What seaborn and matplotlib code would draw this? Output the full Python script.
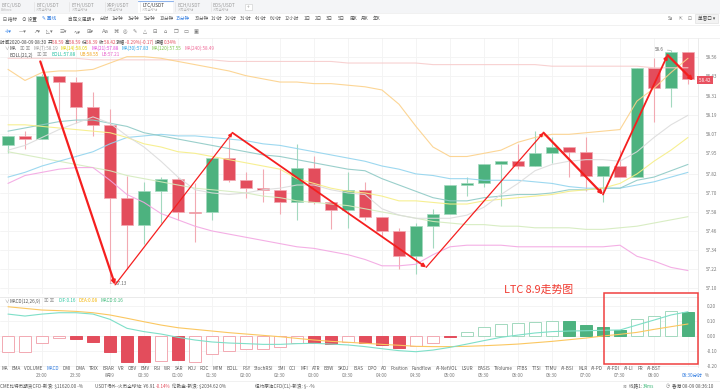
import numpy as np
import matplotlib
matplotlib.use("Agg")
import matplotlib.pyplot as plt
import matplotlib.patches as patches
import matplotlib.transforms as mtransforms
import seaborn as sns

W, H = 720, 390

# LTC/USDT 15 min candles, 22:30 -> 08:30
candle_open = [58.00, 58.06, 58.04, 58.44, 58.40, 58.24, 58.13, 57.67, 57.50, 57.71,
               57.79, 57.58, 57.58, 57.92, 57.78, 57.73, 57.72, 57.64, 57.86, 57.64,
               57.59, 57.72, 57.55, 57.46, 57.30, 57.49, 57.57, 57.75, 57.76, 57.88,
               57.90, 57.87, 57.95, 57.99, 57.96, 57.81, 57.87, 57.80, 58.49, 58.36, 58.59]
candle_high = [58.06, 58.09, 58.45, 58.44, 58.43, 58.34, 58.23, 57.81, 57.77, 57.80,
               57.80, 57.76, 57.92, 58.05, 57.83, 57.85, 57.86, 58.01, 57.93, 57.64,
               57.83, 57.77, 57.55, 57.48, 57.51, 57.60, 57.75, 57.80, 57.88, 57.90,
               58.01, 58.09, 58.05, 57.99, 58.05, 57.87, 57.97, 58.49, 58.55, 58.60, 58.59]
candle_low = [57.95, 57.98, 58.04, 58.16, 58.14, 58.06, 57.13, 57.22, 57.38, 57.51,
              57.53, 57.39, 57.53, 57.77, 57.67, 57.64, 57.57, 57.53, 57.63, 57.47,
              57.48, 57.53, 57.42, 57.22, 57.19, 57.35, 57.57, 57.68, 57.74, 57.62,
              57.85, 57.87, 57.89, 57.80, 57.71, 57.64, 57.80, 57.80, 58.15, 58.24, 58.39]
candle_close = [58.06, 58.04, 58.44, 58.40, 58.24, 58.13, 57.67, 57.50, 57.71, 57.79,
                57.58, 57.575, 57.92, 57.78, 57.73, 57.72, 57.64, 57.86, 57.64, 57.59,
                57.72, 57.55, 57.46, 57.30, 57.49, 57.57, 57.75, 57.76, 57.88, 57.90,
                57.87, 57.95, 57.99, 57.96, 57.81, 57.87, 57.80, 58.49, 58.36, 58.59, 58.42]

# overlay lines
ma7 = [57.97, 58.00, 58.05, 58.10, 58.14, 58.18, 58.14, 58.06, 57.99, 57.90,
       57.80, 57.72, 57.70, 57.69, 57.70, 57.72, 57.73, 57.75, 57.75, 57.72,
       57.70, 57.69, 57.60, 57.56, 57.54, 57.54, 57.54, 57.56, 57.61, 57.69,
       57.76, 57.84, 57.88, 57.90, 57.91, 57.91, 57.90, 57.96, 58.05, 58.13, 58.19]
ma14 = [58.13, 58.13, 58.12, 58.11, 58.10, 58.09, 58.08, 58.05, 58.01, 57.99,
        57.96, 57.95, 57.93, 57.91, 57.89, 57.87, 57.85, 57.79, 57.76, 57.73,
        57.71, 57.70, 57.68, 57.65, 57.65, 57.64, 57.63, 57.63, 57.65, 57.66,
        57.67, 57.68, 57.69, 57.71, 57.72, 57.73, 57.76, 57.82, 57.90, 57.97, 58.05]
boll_mid = [58.09, 58.11, 58.13, 58.15, 58.16, 58.16, 58.14, 58.12, 58.08, 58.06,
            58.04, 58.02, 58.00, 57.98, 57.96, 57.94, 57.93, 57.91, 57.89, 57.87,
            57.85, 57.84, 57.79, 57.75, 57.71, 57.67, 57.65, 57.65, 57.67, 57.68,
            57.69, 57.69, 57.70, 57.72, 57.72, 57.73, 57.73, 57.78, 57.80, 57.84, 57.88]
ma30 = [57.80, 57.83, 57.87, 57.90, 57.93, 57.96, 58.01, 58.05, 58.06, 58.07,
        58.06, 58.06, 58.05, 58.04, 58.03, 58.01, 58.00, 57.98, 57.96, 57.94,
        57.92, 57.90, 57.87, 57.85, 57.82, 57.81, 57.79, 57.79, 57.78, 57.78,
        57.78, 57.77, 57.76, 57.74, 57.73, 57.73, 57.73, 57.75, 57.77, 57.80, 57.83]
ma120 = [57.96, 57.94, 57.92, 57.90, 57.88, 57.86, 57.84, 57.81, 57.79, 57.77,
         57.75, 57.73, 57.72, 57.71, 57.70, 57.68, 57.67, 57.65, 57.64, 57.63,
         57.62, 57.60, 57.58, 57.56, 57.54, 57.52, 57.51, 57.50, 57.50, 57.49,
         57.49, 57.48, 57.48, 57.48, 57.47, 57.47, 57.48, 57.49, 57.51, 57.53, 57.55]
ma240 = [58.55, 58.55, 58.55, 58.55, 58.55, 58.54, 58.54, 58.54, 58.54, 58.54,
         58.54, 58.54, 58.54, 58.53, 58.53, 58.53, 58.53, 58.53, 58.53, 58.53,
         58.52, 58.52, 58.52, 58.52, 58.52, 58.51, 58.51, 58.51, 58.51, 58.51,
         58.51, 58.51, 58.50, 58.50, 58.50, 58.50, 58.50, 58.50, 58.49, 58.49, 58.49]
boll_ub = [58.48, 58.41, 58.46, 58.47, 58.47, 58.48, 58.52, 58.56, 58.56, 58.55,
           58.53, 58.51, 58.49, 58.47, 58.44, 58.42, 58.40, 58.40, 58.39, 58.39,
           58.38, 58.37, 58.35, 58.26, 58.12, 57.99, 57.93, 57.93, 57.95, 57.97,
           58.02, 58.05, 58.07, 58.07, 58.08, 58.09, 58.10, 58.28, 58.36, 58.46, 58.55]
boll_lb = [57.76, 57.81, 57.83, 57.85, 57.86, 57.86, 57.78, 57.69, 57.64, 57.57,
           57.53, 57.49, 57.46, 57.44, 57.42, 57.40, 57.38, 57.36, 57.35, 57.33,
           57.31, 57.28, 57.24, 57.24, 57.25, 57.31, 57.36, 57.37, 57.37, 57.37,
           57.36, 57.36, 57.36, 57.36, 57.36, 57.36, 57.37, 57.30, 57.27, 57.23, 57.21]

# MACD(12,26,9)
macd_hist = [-0.110, -0.107, -0.047, -0.018, -0.020, -0.040, -0.110, -0.173, -0.178, -0.167,
             -0.162, -0.178, -0.122, -0.102, -0.089, -0.089, -0.073, -0.047, -0.051, -0.056,
             -0.040, -0.047, -0.062, -0.084, -0.069, -0.047, -0.007, 0.022, 0.056, 0.078,
             0.082, 0.093, 0.100, 0.098, 0.071, 0.056, 0.038, 0.109, 0.133, 0.167, 0.160]
macd_hollow = [1, 1, 1, 1, 0, 0, 0, 0, 0, 1, 0, 1, 1, 1, 1, 1, 1, 1, 0, 0, 1,
               0, 0, 0, 1, 1, 0, 1, 1, 1, 1, 1, 1, 0, 0, 0, 0, 1, 1, 1, 0]
dif = [0.144, 0.131, 0.144, 0.153, 0.153, 0.144, 0.109, 0.049, 0.027, 0.011,
       -0.011, -0.029, -0.042, -0.049, -0.053, -0.058, -0.058, -0.053, -0.051, -0.056,
       -0.062, -0.073, -0.087, -0.100, -0.107, -0.096, -0.078, -0.056, -0.033, -0.011,
       0.004, 0.018, 0.027, 0.031, 0.033, 0.036, 0.038, 0.071, 0.104, 0.138, 0.160]
dea = [0.193, 0.182, 0.171, 0.167, 0.162, 0.153, 0.138, 0.116, 0.093, 0.071,
       0.053, 0.042, 0.031, 0.020, 0.011, 0.002, -0.007, -0.018, -0.029, -0.038,
       -0.044, -0.051, -0.058, -0.064, -0.071, -0.073, -0.073, -0.071, -0.067, -0.062,
       -0.056, -0.047, -0.038, -0.027, -0.016, -0.002, 0.009, 0.022, 0.042, 0.060, 0.078]

time_idx = list(range(2, 41, 2))
time_labels = ["23:00", "23:30", "8月9", "00:30", "01:00", "01:30", "02:00", "02:30",
               "03:00", "03:30", "04:00", "04:30", "05:00", "05:30", "06:00", "06:30",
               "07:00", "07:30", "08:00", "08:30"]
price_ticks = [58.56, 58.44, 58.31, 58.19, 58.07, 57.95, 57.82, 57.70, 57.58, 57.46, 57.34, 57.22, 57.10]
price_labels = ["58.56", "58.43", "58.31", "58.19", "58.07", "57.95", "57.82", "57.70", "57.58",
                "57.46", "57.34", "57.22", "57.10"]
macd_ticks = [0.20, 0.10, 0.00, -0.10, -0.20]

# hand drawn trend zigzag (candle index, price)
zigzag_x = [1.9, 6.3, 13.2, 24.6, 31.5, 35.0, 38.8, 40.3]
zigzag_y = [58.53, 57.12, 58.08, 57.23, 58.08, 57.69, 58.57, 58.41]
zigzag_lw = [1.6, 0.9, 1.3, 0.9, 1.6, 1.3, 1.6]

indicator_names = ["MA", "EMA", "VOLUME", "MACD", "DMI", "DMA", "TRIX", "BRAR", "VR", "OBV", "EMV",
                   "RSI", "WR", "SAR", "KDJ", "ROC", "MTM", "BOLL", "PSY", "StochRSI", "SMI", "CCI",
                   "MFI", "ATR", "BBW", "SKDJ", "BIAS", "DPO", "AO", "Position", "Fundflow",
                   "AI-NetVOL", "LSUR", "BASIS", "TVolume", "FTBS", "TTSI", "TTMU", "AI-BSI", "MLR",
                   "AI-PD", "AI-FDI", "AI-LI", "FR", "AI-BST"]

UP = "#4db27f"
DOWN = "#e34d5c"
UP_LIGHT = "#a3d9bf"
DOWN_LIGHT = "#f2a9b2"
RED_PEN = "#f51f1f"
FS = 3.3
SYM = ["DejaVu Sans", "Noto Sans CJK SC"]

sns.set_theme(style="white")
plt.rcParams["font.family"] = ["Noto Sans CJK SC", "DejaVu Sans"]
plt.rcParams["axes.unicode_minus"] = False

fig = plt.figure(figsize=(W / 100, H / 100), dpi=100)
fig.patch.set_facecolor("white")
renderer = fig.canvas.get_renderer()


def fx(x):
    return x / W


def fy(y):
    return 1 - y / H


def put(x, y, s, size=FS, color="#666666", ha="left", family=None):
    kw = {} if family is None else {"family": family}
    return fig.text(fx(x), fy(y), s, fontsize=size, color=color, va="center", ha=ha, **kw)


def put_row(x, y, pieces, size=FS, gap=0.0):
    for s, c in pieces:
        t = put(x, y, s, size, c)
        x += t.get_window_extent(renderer).width + gap
    return x


# ---------------- top chrome ----------------
fig.add_artist(patches.Rectangle((0, fy(12.5)), 1, 12.5 / H, transform=fig.transFigure,
                                 fc="#f4f5f7", ec="none"))
fig.add_artist(patches.Rectangle((fx(138), fy(12.5)), 35 / W, 12.5 / H, transform=fig.transFigure,
                                 fc="white", ec="none"))
fig.add_artist(plt.Line2D([fx(138), fx(173)], [fy(0.5), fy(0.5)], transform=fig.transFigure,
                          color="#8fb4ec", lw=0.8))
tabs = [("BTC/USD", "Bitfinex"), ("BTC/USDT", "火币全球站"), ("ETH/USDT", "火币全球站"),
        ("XRP/USDT", "火币全球站"), ("LTC/USDT", "火币全球站"), ("BCH/USDT", "火币全球站"),
        ("EOS/USDT", "火币全球站")]
for k, (name, sub) in enumerate(tabs):
    x0 = 1 + 35.3 * k
    put(x0, 5, name, FS, "#333333" if k == 4 else "#9a9a9a")
    put(x0, 9.8, sub, 2.3, "#b5b5b5")
    if k < 6:
        fig.add_artist(plt.Line2D([fx(x0 + 33), fx(x0 + 33)], [fy(2), fy(11)],
                                  transform=fig.transFigure, color="#e3e3e3", lw=0.5))
fig.add_artist(patches.Rectangle((fx(245), fy(10)), 7 / W, 6 / H, transform=fig.transFigure,
                                 fc="white", ec="#cccccc", lw=0.4))
put(248.5, 7, "+", FS, "#999999", ha="center")
for yy in (12.5, 25, 37.5):
    fig.add_artist(plt.Line2D([0, 1], [fy(yy), fy(yy)], transform=fig.transFigure,
                              color="#ececec", lw=0.5))

put_row(3, 18.8, [("⊟ 指标", "#555555")])
put_row(22, 18.8, [("⊙ 设置", "#555555")])
put_row(42, 18.8, [("✎ 画线", "#2f7be0")])
period_x = [68, 100, 112, 128, 144, 160, 176, 195, 211, 225, 240, 255, 270, 285, 304, 315, 326, 338, 350, 361, 373]
period_txt = ["自定义周期 ▾", "分时", "1分钟", "3分钟", "5分钟", "10分钟", "15分钟", "30分钟", "1小时",
              "2小时", "3小时", "4小时", "6小时", "12小时", "1日", "2日", "3日", "5日", "周K", "月K", "年K"]
for px_, s in zip(period_x, period_txt):
    put(px_, 18.8, s, FS, "#2f7be0" if s == "15分钟" else "#555555")
put(668, 18.8, "Sa", FS, "#666666")
put(679, 18.8, "⇱", FS, "#888888", family=SYM)
put(688, 18.8, "⊡", FS, "#888888", family=SYM)
fig.add_artist(patches.Rectangle((fx(695), fy(23)), 23 / W, 8.5 / H, transform=fig.transFigure,
                                 fc="#f3f3f3", ec="#dddddd", lw=0.4))
put(706.5, 18.8, "单窗口 ▾", FS, "#444444", ha="center")

tool_icons = ["✛▾", "—▾", "↗▾", "◺▾", "☰▾", "∿▾", "⊞▾", "Aa", "⌘", "◎", "✎", "△", "⊟", "⌂", "❐", "▭", "▣"]
tool_x = [5, 19, 33, 46, 60, 73, 87, 102, 113, 123, 133, 143, 153, 164, 174, 184, 194]
for k, (tx, s) in enumerate(zip(tool_x, tool_icons)):
    put(tx, 31.5, s, 3.8, "#3a86e8" if k == 0 else "#777777", family=SYM)

# info rows
put_row(0.5, 42, [("时间2020-08-09 08:30 ", "#444444"), ("开", "#444444"), ("58.59 ", DOWN),
                  ("高", "#444444"), ("58.59 ", DOWN), ("低", "#444444"), ("58.39 ", DOWN),
                  ("收", "#444444"), ("58.42 ", DOWN), ("涨幅", "#444444"), ("-0.29%(-0.17) ", DOWN),
                  ("振幅", "#444444"), ("0.34%", DOWN)])
put(4, 48.5, "∨", FS, "#888888")
put(10, 48.5, "MA", FS, "#444444")
put(20, 48.5, "▣ ▣", FS, "#999999")
put_row(33, 48.5, [("MA(7):58.19", "#9c9c9c"), ("MA(14):58.05", "#e3d000"), ("MA(21):57.88", "#e043d8"),
                   ("MA(30):57.83", "#1f9fe6"), ("MA(120):57.55", "#7cc44a"), ("MA(240):58.49", "#f06a98")],
        gap=3)
put(10, 55, "BOLL(21,2)", FS, "#444444")
put(37, 55, "▣ ▣", FS, "#999999")
put_row(52, 55, [("BOLL:57.88", "#1fbf9f"), ("UB:58.55", "#f0a214"), ("LB:57.21", "#e860c8")], gap=3)

# ---------------- price panel ----------------
ax = fig.add_axes([0, fy(294), fx(698), (294 - 38) / H])
idx = np.arange(len(candle_close))
o = np.array(candle_open)
c = np.array(candle_close)
up = c > o
body_low = np.minimum(o, c)
body_h = np.maximum(np.abs(c - o), 0.006)
ax.vlines(idx, candle_low, candle_high, colors=[UP_LIGHT if u else DOWN_LIGHT for u in up],
          lw=0.8, zorder=2)
ax.bar(idx, body_h, bottom=body_low, width=0.76, color=[UP if u else DOWN for u in up],
       edgecolor=[UP_LIGHT if u else DOWN_LIGHT for u in up], linewidth=0.5, zorder=3)

lines = [(ma240, "#f7cccc"), (boll_ub, "#fcd18a"), (ma120, "#d4ebbd"), (boll_lb, "#f3a6e2"),
         (ma30, "#92d4ee"), (boll_mid, "#8fcac6"), (ma14, "#f6ee86"), (ma7, "#dcdcdc")]
for vals, col in lines:
    sns.lineplot(x=idx, y=vals, ax=ax, color=col, linewidth=0.8, alpha=0.9, zorder=4)

for k in range(len(zigzag_x) - 1):
    ax.annotate("", xy=(zigzag_x[k + 1], zigzag_y[k + 1]), xytext=(zigzag_x[k], zigzag_y[k]),
                arrowprops=dict(arrowstyle="-|>", color=RED_PEN, lw=zigzag_lw[k],
                                shrinkA=0, shrinkB=0, mutation_scale=5), zorder=6)

ax.annotate("58.6", xy=(39, candle_high[39]), xytext=(-5, 0.6), textcoords="offset points",
            ha="right", va="center", fontsize=FS, color="#666666",
            arrowprops=dict(arrowstyle="-", color="#999999", lw=0.4, shrinkA=0, shrinkB=0))
ax.annotate("57.13", xy=(6, candle_low[6]), xytext=(4, 0), textcoords="offset points",
            ha="left", va="center", fontsize=FS, color="#666666",
            arrowprops=dict(arrowstyle="-", color="#999999", lw=0.4, shrinkA=0, shrinkB=0))

ax.set_xlim(-0.47, 40.59)
ax.set_ylim(57.062, 58.678)
ax.set_xticks(range(0, 41, 2))
ax.set_xticklabels([])
ax.set_yticks(price_ticks)
ax.set_yticklabels(price_labels)
ax.yaxis.tick_right()
ax.tick_params(axis="both", length=0)
ax.tick_params(axis="y", labelsize=FS, labelcolor="#777777", pad=6)
ax.grid(True, color="#f3f3f3", lw=0.6)
ax.set_axisbelow(True)
for side in ("top", "left", "bottom"):
    ax.spines[side].set_visible(False)
ax.spines["right"].set_color("#e8e8e8")
ax.spines["right"].set_linewidth(0.6)
ax.set_xlabel("")
ax.set_ylabel("")

trans_r = mtransforms.blended_transform_factory(ax.transAxes, ax.transData)
ax.text(1.0, candle_close[-1] - 0.008, " 58.42 ", transform=trans_r, ha="left", va="center",
        fontsize=FS, color="white", clip_on=False, zorder=7,
        bbox=dict(boxstyle="square,pad=0.3", fc="#e8505f", ec="none"))

# ---------------- MACD panel ----------------
ax_m = fig.add_axes([0, fy(367), fx(698), (367 - 297) / H])
hist = np.array(macd_hist)
hollow = np.array(macd_hollow, dtype=bool)
full_col = np.where(hist >= 0, UP, DOWN)
light_col = np.where(hist >= 0, UP_LIGHT, DOWN_LIGHT)
face = [("white" if h else fc) for h, fc in zip(hollow, full_col)]
edge = [(lc if h else fc) for h, lc, fc in zip(hollow, light_col, full_col)]
ax_m.bar(idx, hist, width=0.74, color=face, edgecolor=edge, linewidth=0.7, zorder=2)
sns.lineplot(x=idx, y=dea, ax=ax_m, color="#fbc760", linewidth=0.8, zorder=3)
sns.lineplot(x=idx, y=dif, ax=ax_m, color="#7edfc8", linewidth=0.8, zorder=3)
ax_m.set_xlim(-0.47, 40.59)
ax_m.set_ylim(-0.209, 0.258)
ax_m.set_xticks(range(0, 41, 2))
ax_m.set_xticklabels([])
ax_m.set_yticks(macd_ticks)
ax_m.set_yticklabels([f"{v:.2f}" for v in macd_ticks])
ax_m.yaxis.tick_right()
ax_m.tick_params(axis="both", length=0)
ax_m.tick_params(axis="y", labelsize=FS, labelcolor="#777777", pad=6)
ax_m.grid(True, color="#f3f3f3", lw=0.6)
ax_m.set_axisbelow(True)
for side in ("left", "bottom"):
    ax_m.spines[side].set_visible(False)
ax_m.spines["top"].set_color("#e6e6e6")
ax_m.spines["top"].set_linewidth(0.6)
ax_m.spines["right"].set_color("#e8e8e8")
ax_m.spines["right"].set_linewidth(0.6)
ax_m.set_xlabel("")
ax_m.set_ylabel("")

put(4, 301, "∨", FS, "#888888")
put(10, 301, "MACD(12,26,9)", FS, "#555555")
put(44, 301, "▣ ▣", FS, "#999999")
put_row(58, 301, [("DIF:0.16", "#2cc7a2"), ("DEA:0.08", "#f4b400"), ("MACD:0.16", "#3cb878")], gap=3)

# annotation of the screenshot
put(539, 290, "LTC 8.9走势图", 7.8, "#f03a30", ha="center")
fig.add_artist(patches.Rectangle((fx(604), fy(364)), 94 / W, 71 / H, transform=fig.transFigure,
                                 fill=False, ec="#f04040", lw=1.1, zorder=10))

# ---------------- indicator row, time axis, status bar ----------------
objs = [put(0, 368.5, n, FS, "#2f7be0" if n == "MACD" else "#555555") for n in indicator_names]
widths = [t.get_window_extent(renderer).width for t in objs]
gap = (661 - 1 - sum(widths)) / (len(objs) - 1)
xx = 1
for t, w in zip(objs, widths):
    t.set_x(fx(xx))
    xx += w + gap

trans_t = mtransforms.blended_transform_factory(ax_m.transData, fig.transFigure)
for i, lab in zip(time_idx, time_labels):
    last = i == time_idx[-1]
    ax_m.text(i + (0.25 if last else 0), fy(375.5), lab + ("分时" if last else ""), transform=trans_t,
              ha="center", va="center", fontsize=FS, color="#2f7be0" if last else "#777777",
              clip_on=False)
put(705, 375.5, "%", FS, "#777777")

fig.add_artist(plt.Line2D([0, 1], [fy(380.5), fy(380.5)], transform=fig.transFigure,
                          color="#ececec", lw=0.5))
put_row(0.5, 386, [("CME比特币期货CFD-新浪: $11620.00 -%", "#555555")])
put_row(95, 386, [("USDT场外-火币全球站: ¥6.91 ", "#555555"), ("-0.14%", DOWN)])
put_row(172, 386, [("伦敦金-新浪: $2034.62 0%", "#555555")])
put_row(255, 386, [("纽约原油CFD(CL)-新浪: $- -%", "#555555")])
put(623, 386, "≋", FS, "#777777", family=SYM)
put_row(629, 386, [("线路1: ", "#555555"), ("34ms", "#3cb878")])
put(666, 386, "◷", FS, "#777777", family=SYM)
put_row(672, 386, [("香港 08-09 08:36:10", "#555555")])

fig.savefig("out.png", dpi=100)
